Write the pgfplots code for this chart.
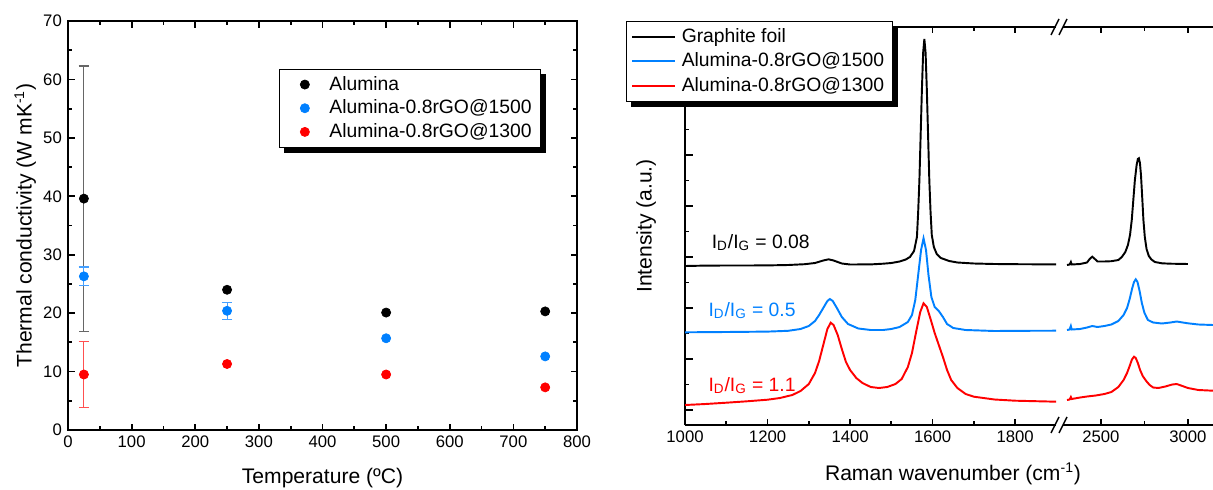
\documentclass[border=0pt]{standalone}
\usepackage{fontspec}
\setmainfont{Liberation Sans}
\usepackage{pgfplots}
\pgfplotsset{compat=1.18}
\usetikzlibrary{calc}
\definecolor{oblue}{RGB}{0,128,255}
\definecolor{lblue}{RGB}{70,160,255}
\definecolor{lred}{RGB}{255,80,80}

\pgfplotsset{
  common/.style={
    scale only axis, anchor=south west,
    axis line style={line width=1.1pt},
    every tick/.style={black, line width=1pt},
    major tick length=0.13cm, minor tick length=0.08cm,
    tick label style={font=\fontsize{9.5}{11}\selectfont},
    label style={font=\fontsize{12}{14}\selectfont},
    /pgf/number format/assume math mode=true,
    /pgf/number format/1000 sep={},
  },
  spec/.style={line width=1.1pt, mark=none},
}

\begin{document}
\begin{tikzpicture}

% left panel: thermal conductivity
\begin{axis}[common,
  at={(1.36cm,1.18cm)}, width=10.18cm, height=8.18cm,
  xmin=0, xmax=800, ymin=0, ymax=70,
  xtick distance=100, ytick distance=10,
  minor x tick num=1, minor y tick num=1,
  xlabel={Temperature (ºC)},
  ylabel={Thermal conductivity (W mK\textsuperscript{-1})},
  xlabel style={at={(axis description cs:0.5,-0.117)}, anchor=center},
  ylabel style={at={(axis description cs:-0.084,0.5)}, anchor=center},
  legend cell align=left,
  legend image code/.code={\path[draw=none, fill=none] (0cm,0cm) -- (0.82cm,0cm);
    \draw[#1] plot[only marks] coordinates {(0.4cm,0cm)};},
  legend style={name=legL, at={(0.415,0.883)}, anchor=north west,
    font=\fontsize{11}{13}\selectfont, draw=black, fill=white, row sep=0pt},
]
% error bars first
\addplot[forget plot, only marks, mark=none, error bars/.cd, y dir=both, y explicit,
  error bar style={gray!80!black, line width=0.6pt},
  error mark options={rotate=90, mark size=3pt, gray!80!black, line width=0.6pt}]
  coordinates {(25,39.6) +- (0,22.7)};
\addplot[forget plot, only marks, mark=none, error bars/.cd, y dir=both, y explicit,
  error bar style={lblue, line width=0.6pt},
  error mark options={rotate=90, mark size=3pt, lblue, line width=0.6pt}]
  coordinates {(25,26.3) +- (0,1.6) (250,20.4) +- (0,1.5)};
\addplot[forget plot, only marks, mark=none, error bars/.cd, y dir=both, y explicit,
  error bar style={lred, line width=0.6pt},
  error mark options={rotate=90, mark size=3pt, lred, line width=0.6pt}]
  coordinates {(25,9.5) +- (0,5.7)};

\addplot[only marks, mark=*, mark size=2.6pt, black] coordinates {
  (25,39.6) (250,24.0) (500,20.1) (750,20.3)
};
\addplot[only marks, mark=*, mark size=2.6pt, oblue, mark options={draw=oblue, fill=oblue}] coordinates {
  (25,26.3) (250,20.4) (500,15.7) (750,12.6)
};
\addplot[only marks, mark=*, mark size=2.6pt, red, mark options={draw=red, fill=red}] coordinates {
  (25,9.5) (250,11.3) (500,9.5) (750,7.3)
};
\legend{Alumina, Alumina-0.8rGO@1500, Alumina-0.8rGO@1300}
\end{axis}
% legend shadow
\fill[black] ($(legL.north east)+(0,-0.1)$) rectangle ($(legL.south east)+(0.1,-0.1)$);
\fill[black] ($(legL.south west)+(0.1,0)$) rectangle ($(legL.south east)+(0.1,-0.1)$);

% right panel, low wavenumber part
\begin{axis}[common,
  at={(13.7cm,1.28cm)}, width=7.42cm, height=7.96cm,
  xmin=1000, xmax=1899, ymin=0, ymax=398,
  xtick={1000,1200,...,1800}, minor x tick num=1,
  ytick={15,66,...,372}, minor y tick num=1, yticklabels={},
  major y tick style={/pgfplots/major tick length=0.16cm},
  axis y line*=left, y axis line style={-},
  ylabel={Intensity (a.u.)},
  ylabel style={at={(axis description cs:-0.105,0.5)}, anchor=center},
  legend cell align=left,
  legend image code/.code={\path[draw=none] (0cm,0cm) -- (0.92cm,0cm);
    \draw[#1] (0cm,0cm) -- (0.86cm,0cm);},
  legend style={name=legR, at={(-0.16,1.015)}, anchor=north west,
    font=\fontsize{11}{13}\selectfont, draw=black, fill=white, row sep=0.5pt},
]
\addplot[spec, black] coordinates {
  (1000,159) (1050,159.4) (1100,159.5) (1150,159.5) (1200,159.6) (1250,160) (1290,160.8)
  (1315,162) (1335,164.5) (1348,165.7) (1360,164.5) (1380,161.5) (1400,160.5) (1450,160.6)
  (1480,161.3) (1500,162) (1520,163.5) (1535,165.5) (1545,168) (1555,174) (1562,188)
  (1565,213) (1568,245) (1571,290) (1574,335) (1577,372) (1580,386) (1583,372) (1586,335)
  (1589,290) (1592,245) (1595,213) (1598,190) (1603,178) (1610,171) (1620,167) (1640,164)
  (1660,162.5) (1700,161.5) (1750,161) (1800,160.8) (1850,160.7) (1900,160.7)
};
\addplot[spec, oblue] coordinates {
  (1000,92.7) (1100,93) (1200,93.4) (1250,94.2) (1280,96) (1300,99) (1315,104) (1325,110)
  (1335,117) (1345,124) (1351,126) (1358,124) (1368,117) (1380,108) (1395,101) (1420,96.5)
  (1450,95) (1480,95) (1500,96) (1520,98) (1540,103) (1550,110) (1558,125) (1565,150)
  (1572,175) (1578,186.7) (1584,175) (1590,150) (1597,128) (1605,118) (1615,114) (1625,108)
  (1635,101) (1650,97) (1680,95) (1750,94) (1820,94.2) (1900,94.3)
};
\addplot[spec, red] coordinates {
  (1000,20) (1050,21) (1100,22.3) (1150,23.7) (1200,25.3) (1230,27) (1260,30) (1280,34)
  (1300,41) (1315,52) (1325,64) (1335,80) (1345,96) (1353,102.3) (1360,100) (1370,90)
  (1380,76) (1390,63) (1400,55) (1415,47) (1430,42) (1450,38) (1470,37) (1490,38)
  (1510,41) (1525,46) (1540,58) (1550,72) (1560,93) (1570,113) (1578,121.7) (1586,118)
  (1595,106) (1605,92) (1615,80) (1625,68) (1635,55) (1645,45) (1660,37) (1680,31)
  (1700,28.3) (1750,25.5) (1800,24.3) (1900,23.3)
};
\legend{Graphite foil, Alumina-0.8rGO@1500, Alumina-0.8rGO@1300}
\node[anchor=base west, font=\fontsize{11}{13}\selectfont, black] at (axis cs:1050,177)
  {I\textsubscript{D}/I\textsubscript{G} = 0.08};
\node[anchor=base west, font=\fontsize{11}{13}\selectfont, oblue] at (axis cs:1042,109)
  {I\textsubscript{D}/I\textsubscript{G} = 0.5};
\node[anchor=base west, font=\fontsize{11}{13}\selectfont, red] at (axis cs:1042,34)
  {I\textsubscript{D}/I\textsubscript{G} = 1.1};
\end{axis}
\fill[black] ($(legR.north east)+(0,-0.1)$) rectangle ($(legR.south east)+(0.1,-0.1)$);
\fill[black] ($(legR.south west)+(0.1,0)$) rectangle ($(legR.south east)+(0.1,-0.1)$);

% right panel, high wavenumber part
\begin{axis}[common,
  at={(21.26cm,1.28cm)}, width=3.0cm, height=7.96cm,
  xmin=2282, xmax=3144, ymin=0, ymax=398,
  xtick={2500,3000}, minor x tick num=1,
  axis y line=none,
]
\addplot[spec, black] coordinates {
  (2305,160) (2320,160.5) (2327,163) (2332,160.5) (2380,161) (2420,162.5) (2435,166)
  (2450,168.3) (2465,166) (2480,163.5) (2520,163.5) (2560,163.8) (2600,165) (2620,168)
  (2640,173) (2655,180) (2667,190) (2677,205) (2686,225) (2695,245) (2705,260)
  (2712,266) (2718,266.7) (2724,262) (2730,250) (2737,228) (2744,205) (2752,188)
  (2762,176) (2775,169) (2790,165.5) (2810,163) (2850,161.7) (2900,161.3) (3000,161)
};
\addplot[spec, oblue] coordinates {
  (2305,95) (2320,95.5) (2327,99) (2332,95.5) (2380,96) (2420,97.5) (2450,99) (2480,98)
  (2520,99) (2560,100.5) (2600,104) (2630,110) (2650,117) (2665,126) (2680,137)
  (2690,143) (2700,145.7) (2710,143) (2722,134) (2735,122) (2750,112) (2770,105)
  (2800,102.5) (2850,101.5) (2900,102.5) (2935,103.5) (2970,102.5) (3000,101.7)
  (3060,100.5) (3144,100)
};
\addplot[spec, red] coordinates {
  (2305,25) (2320,25.5) (2327,28) (2332,26) (2380,27.5) (2420,28.5) (2470,29.5)
  (2520,31) (2560,33) (2600,38) (2630,45) (2650,52) (2665,59) (2678,65.5)
  (2690,68.3) (2700,67) (2712,62) (2725,55) (2740,49) (2760,44) (2780,40)
  (2800,37.5) (2830,37) (2870,38.5) (2910,40.5) (2935,41) (2960,39.5) (3000,37)
  (3060,35) (3144,34.3)
};
\end{axis}

% axis break marks
\foreach \yy in {9.24,1.28} {
  \draw[line width=0.8pt] (21.02,\yy-0.16) -- (21.18,\yy+0.16);
  \draw[line width=0.8pt] (21.18,\yy-0.16) -- (21.34,\yy+0.16);
}
\node[font=\fontsize{12}{14}\selectfont] at (19.06,0.30) {Raman wavenumber (cm\textsuperscript{-1})};

\pgfresetboundingbox
\useasboundingbox (0,0) rectangle (24.26,9.78);
\end{tikzpicture}
\end{document}
